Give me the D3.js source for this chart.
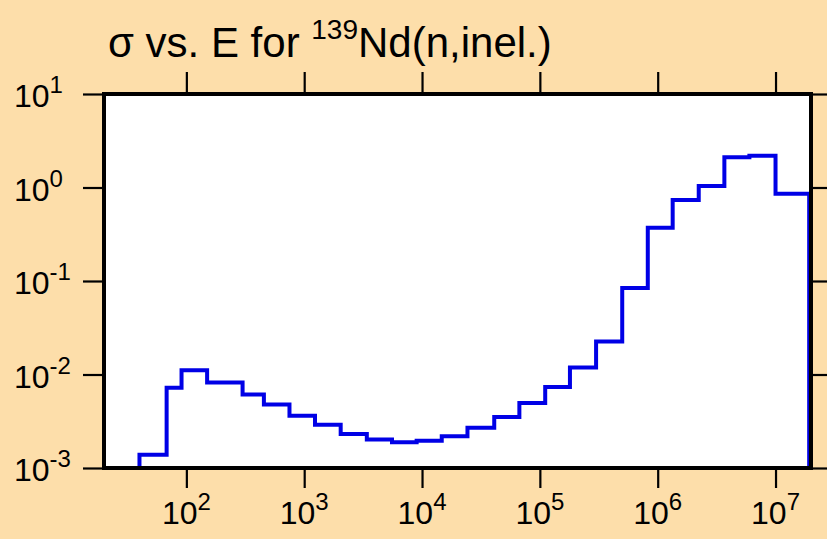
<!DOCTYPE html>
<html><head><meta charset="utf-8">
<script src="https://cdn.jsdelivr.net/npm/d3@7"></script>
<style>body{margin:0;background:#fddeaa;} svg{display:block}</style>
</head><body><svg id="c" width="827" height="539"></svg>
<script>
// Energy bin edges (eV) and cross-section per bin (b)
const binEdges = [40, 68, 91, 150, 300, 455, 750, 1235, 2040, 3400, 5560, 9000, 14700, 24300,
  41000, 67000, 111000, 180000, 300000, 500000, 824000, 1.34e6, 2.23e6, 3.68e6, 6.0e6, 1.0e7, 1.93e7];
const sigma = [1.39e-3, 7.2e-3, 1.11e-2, 8.2e-3, 6.1e-3, 4.77e-3, 3.63e-3, 2.91e-3, 2.31e-3, 2.02e-3,
  1.88e-3, 1.96e-3, 2.18e-3, 2.69e-3, 3.51e-3, 4.95e-3, 7.35e-3, 1.19e-2, 2.26e-2, 8.43e-2,
  0.371, 0.733, 1.04, 2.10, 2.18, 0.857];
const xTicks = [1e2, 1e3, 1e4, 1e5, 1e6, 1e7];
const xTickExp = ["2", "3", "4", "5", "6", "7"];
const yTicks = [1e1, 1e0, 1e-1, 1e-2, 1e-3];
const yTickExp = ["1", "0", "-1", "-2", "-3"];
const titleParts = ["σ vs. E for ", "139", "Nd(n,inel.)"];

const svg = d3.select("#c");
const W = 827, H = 539;
const m = {l: 104, t: 94, r: 811, b: 468};
const font = "Liberation Sans, Arial, Helvetica, sans-serif";

svg.append("rect").attr("width", W).attr("height", H).attr("fill", "#fddeaa");

const x = d3.scaleLog().domain([20, 2e7]).range([m.l, m.r]);
const y = d3.scaleLog().domain([1e-3, 1e1]).range([m.b, m.t]);

// plot area
svg.append("rect").attr("x", m.l).attr("y", m.t).attr("width", m.r - m.l).attr("height", m.b - m.t)
  .attr("fill", "#ffffff");

// step line
const pts = [[binEdges[0], 1e-3]];
sigma.forEach((v, i) => { pts.push([binEdges[i], v]); pts.push([binEdges[i + 1], v]); });
pts.push([binEdges[binEdges.length - 1], 1e-3]);
svg.append("path").datum(pts)
  .attr("d", d3.line().x(d => x(d[0])).y(d => y(d[1])))
  .attr("fill", "none").attr("stroke", "#0000e6").attr("stroke-width", 4)
  .attr("stroke-linejoin", "miter");

// ticks via axes
function styleAxis(g) {
  g.select(".domain").remove();
  g.selectAll(".tick line").attr("stroke", "#000").attr("stroke-width", 2.2);
  g.selectAll(".tick text").remove();
}
svg.append("g").attr("transform", `translate(0,${m.b})`)
  .call(d3.axisBottom(x).tickValues(xTicks).tickSize(20)).call(styleAxis);
svg.append("g").attr("transform", `translate(0,${m.t})`)
  .call(d3.axisTop(x).tickValues(xTicks).tickSize(22)).call(styleAxis);
svg.append("g").attr("transform", `translate(${m.l},0)`)
  .call(d3.axisLeft(y).tickValues(yTicks).tickSize(21)).call(styleAxis);
svg.append("g").attr("transform", `translate(${m.r},0)`)
  .call(d3.axisRight(y).tickValues(yTicks).tickSize(20)).call(styleAxis);

// frame
svg.append("rect").attr("x", m.l).attr("y", m.t).attr("width", m.r - m.l).attr("height", m.b - m.t)
  .attr("fill", "none").attr("stroke", "#000").attr("stroke-width", 4);

// x labels
xTicks.forEach((t, i) => {
  const tx = svg.append("text").attr("x", x(t)).attr("y", 524).attr("text-anchor", "middle")
    .attr("font-family", font).attr("font-size", 32).attr("fill", "#000");
  tx.append("tspan").text("10");
  tx.append("tspan").attr("font-size", 24).attr("dy", -14).text(xTickExp[i]);
});
// y labels
yTicks.forEach((t, i) => {
  const tx = svg.append("text").attr("x", 14).attr("y", y(t) + 13)
    .attr("font-family", font).attr("font-size", 32).attr("fill", "#000");
  tx.append("tspan").text("10");
  tx.append("tspan").attr("font-size", 24).attr("dy", -14).text(yTickExp[i]);
});

// title
const ttl = svg.append("text").attr("x", 108).attr("y", 57)
  .attr("font-family", font).attr("font-size", 42).attr("fill", "#000");
ttl.append("tspan").text(titleParts[0]);
ttl.append("tspan").attr("font-size", 28).attr("dy", -18).text(titleParts[1]);
ttl.append("tspan").attr("dy", 18).text(titleParts[2]);
</script></body></html>
